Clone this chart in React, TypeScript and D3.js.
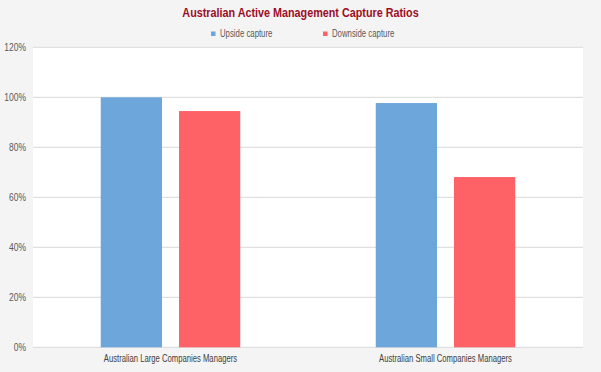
import React from 'react';
import * as d3 from 'd3';

const categories = ['Australian Large Companies Managers', 'Australian Small Companies Managers'];
const seriesNames = ['Upside capture', 'Downside capture'];
const upside = [100, 97.7];
const downside = [94.5, 68.1];
const yTicks = [0, 20, 40, 60, 80, 100, 120];

const colors = ['#6ca6da', '#ff6266'];
const FONT = '"Liberation Sans", Arial, sans-serif';

const W = 601;
const H = 372;
const margin = { top: 47.3, right: 18, bottom: 24.7, left: 33 };

// no narrow font installed, so squeeze regular text horizontally
const Narrow = ({ x, y, sx = 0.78, anchor = 'start', size = 10, fill = '#595959', bold = false, children }: any) => (
  <g transform={`translate(${x},${y}) scale(${sx},1)`}>
    <text
      textAnchor={anchor}
      fontFamily={FONT}
      fontSize={size}
      fontWeight={bold ? 'bold' : 'normal'}
      fill={fill}
    >
      {children}
    </text>
  </g>
);

const App = () => {
  const values = [upside, downside];
  const x0 = d3
    .scaleBand()
    .domain(categories)
    .range([margin.left, W - margin.right])
    .padding(0);
  const x1 = d3
    .scaleBand()
    .domain(seriesNames)
    .range([0, x0.bandwidth()])
    .paddingInner(0.217)
    .paddingOuter(0.866);
  const y = d3
    .scaleLinear()
    .domain([0, 120])
    .range([H - margin.bottom, margin.top]);

  return (
    <svg width={W} height={H} style={{ position: 'absolute', left: 0, top: 0, background: '#f4f4f4' }}>
      <rect x={0} y={0} width={W} height={H} fill="#f4f4f4" />
      <rect
        x={margin.left}
        y={margin.top}
        width={W - margin.left - margin.right}
        height={H - margin.top - margin.bottom}
        fill="#ffffff"
      />
      <Narrow x={W / 2} y={17} sx={0.83} anchor="middle" size={13} bold fill="#9c0d25">
        Australian Active Management Capture Ratios
      </Narrow>
      {/* legend */}
      {seriesNames.map((s, i) => {
        const lx = i === 0 ? 211 : 323;
        return (
          <g key={s}>
            <rect x={lx} y={31.5} width={4.5} height={4.5} fill={colors[i]} />
            <Narrow x={lx + 9} y={37}>
              {s}
            </Narrow>
          </g>
        );
      })}
      {/* gridlines */}
      {yTicks.map((t) => (
        <g key={t}>
          <line
            x1={margin.left}
            x2={W - margin.right}
            y1={y(t)}
            y2={y(t)}
            stroke="#d9d9d9"
            strokeWidth={1}
          />
          <Narrow x={26} y={y(t) + 3.5} sx={0.85} anchor="end">
            {t}%
          </Narrow>
        </g>
      ))}
      {/* bars */}
      {categories.map((c, ci) => (
        <g key={c} transform={`translate(${x0(c)},0)`}>
          {seriesNames.map((s, si) => (
            <rect
              key={s}
              x={x1(s)}
              y={y(values[si][ci])}
              width={x1.bandwidth()}
              height={y(0) - y(values[si][ci])}
              fill={colors[si]}
            />
          ))}
          <Narrow x={x0.bandwidth() / 2} y={H - margin.bottom + 15} sx={0.77} anchor="middle" fill="#404040">
            {c}
          </Narrow>
        </g>
      ))}
    </svg>
  );
};

export default App;
